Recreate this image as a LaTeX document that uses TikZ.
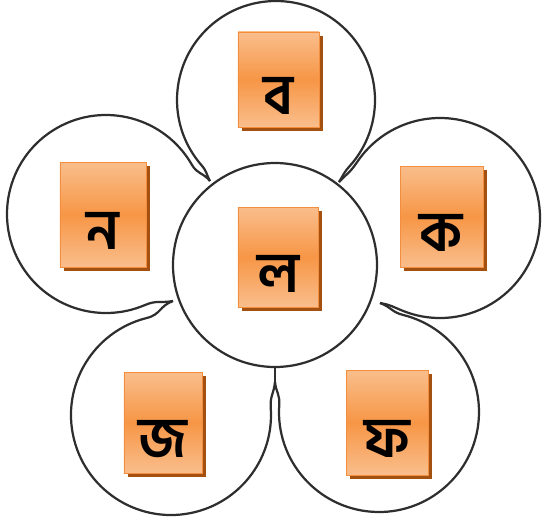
\documentclass[tikz,border=0pt]{standalone}
\usepackage{fontspec}
\newfontfamily\bnfont[Script=Bengali]{Hind Siliguri}
\usetikzlibrary{calc,shadows}
\definecolor{boxlight}{RGB}{249,190,140}
\definecolor{boxmid}{RGB}{247,150,70}
\definecolor{boxline}{RGB}{242,142,62}
\definecolor{boxshade}{RGB}{164,80,16}
\tikzset{
  petal/.style={line width=1.9pt,draw=black!82,line join=round},
  letterbox/.style={rectangle,draw=boxline,line width=.8pt,
    top color=boxlight,bottom color=boxlight,middle color=boxmid,
    minimum width=2.46cm,minimum height=3cm,inner sep=0pt,
    text height=2.1cm,text depth=0pt,
    font=\bnfont\bfseries\fontsize{48}{48}\selectfont,
    drop shadow={shadow xshift=3pt,shadow yshift=-3.8pt,opacity=1,fill=boxshade}}
}

\begin{document}
\begin{tikzpicture}[x=0.03cm,y=0.03cm]
  \useasboundingbox (-275,-259) rectangle (267,265);

  % tips where two petals meet
  \coordinate (k12) at (64,83);
  \coordinate (k23) at (105,-38);
  \coordinate (k34) at (0,-117);
  \coordinate (k45) at (-102,-36);
  \coordinate (k51) at (-65,84);
  \coordinate (hb) at (0,-102);

  % petals, each one anticlockwise from tip to tip
  \draw[petal] (k12) to[out=58,in=-132,looseness=1.2] ($(1,165)+(-42:99)$)
    arc[start angle=-42,end angle=221,radius=99] to[out=311,in=118,looseness=1.2] (k51);
  \draw[petal] (k23) to[out=-10,in=158,looseness=1.2] ($(165,47)+(-112:100)$)
    arc[start angle=-112,end angle=146,radius=100] to[out=236,in=46,looseness=1.2] (k12);
  \draw[petal] (k34) to[out=-84,in=86,looseness=1.2] ($(104,-147)+(176:100)$)
    arc[start angle=176,end angle=436,radius=100] to[out=166,in=-20,looseness=1.2] (k23);
  \draw[petal] (k45) to[out=200,in=14,looseness=1.2] ($(-104,-150)+(104:100)$)
    arc[start angle=104,end angle=364,radius=100] to[out=94,in=-96,looseness=1.2] (k34);
  \draw[petal] (k51) to[out=130,in=-60,looseness=1.2] ($(-169,51)+(30:99)$)
    arc[start angle=30,end angle=293,radius=99] to[out=23,in=190,looseness=1.2] (k45);

  \draw[petal] (0,0) circle[radius=102];
  \draw[petal] (hb) -- (k34);

  \node[letterbox,minimum width=2.43cm,minimum height=2.85cm] (bo) at (3.5,185.5) {ব};
  \node[letterbox,minimum width=2.4cm] (lo) at (3,8) {ল};
  \node[letterbox,minimum width=2.58cm,minimum height=3.15cm] (no) at (-172,50.5) {ন};
  \node[letterbox,minimum width=2.49cm,minimum height=3.03cm] (ko) at (166.5,48.5) {ক};
  \node[letterbox,minimum width=2.34cm,minimum height=3.03cm] (jo) at (-112,-157.5) {জ};
  \node[letterbox,minimum height=3.15cm] (pho) at (112,-157.5) {ফ};
\end{tikzpicture}
\end{document}
